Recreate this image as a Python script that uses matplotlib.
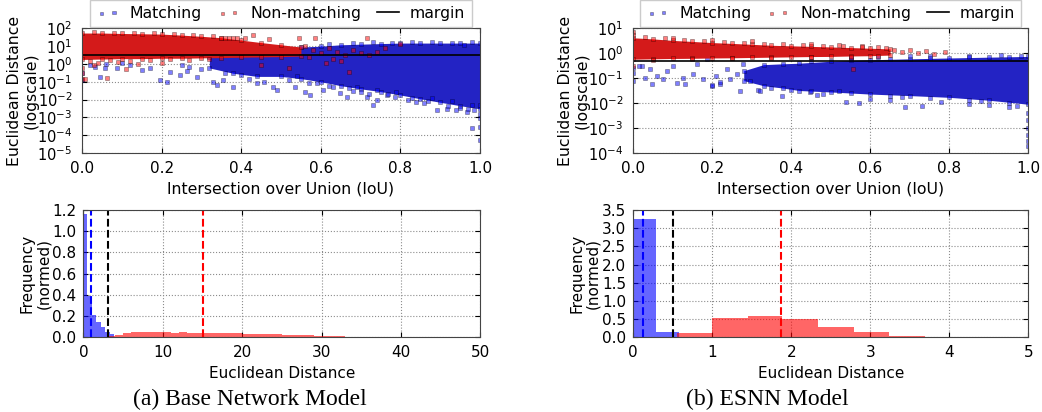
import numpy as np
from matplotlib import pyplot as plt
from matplotlib.ticker import LogLocator

#%% Data

# (a) Base network: dense bands (envelopes), then loose points
a_match_iou = [0.32, 0.38, 0.44, 0.50, 0.55, 0.60, 0.65, 0.70, 0.75, 0.80, 0.85, 0.90, 0.95, 1.00]
a_match_lo = [0.6, 0.3, 0.2, 0.2, 0.15, 0.1, 0.06, 0.04, 0.028, 0.018, 0.011, 0.007, 0.0045, 0.003]
a_match_hi = [2.5, 4, 5, 7, 9, 10, 12, 13, 14, 15, 15, 15, 15, 15]
a_non_iou = [0.0, 0.05, 0.1, 0.15, 0.2, 0.25, 0.3, 0.35, 0.4, 0.45, 0.5, 0.55]
a_non_lo = [1.8, 1.9, 2.0, 2.0, 2.1, 2.1, 2.2, 2.3, 2.4, 2.5, 2.6, 2.8]
a_non_hi = [55, 55, 52, 50, 48, 42, 36, 30, 22, 16, 12, 9]

a_match_x = [0.033, 0.045, 0.058, 0.087, 0.12, 0.15, 0.196, 0.213, 0.246, 0.263, 0.288, 0.33,
             0.34, 0.355, 0.4, 0.456, 0.48, 0.49, 0.17, 0.22, 0.27, 0.3, 0.1, 0.06, 0.02, 0.0,
             0.0, 0.25, 0.36, 0.42, 0.44, 0.38,
             0.535, 0.56, 0.573, 0.606, 0.648, 0.665, 0.715, 0.732, 0.74, 0.766, 0.786, 0.84,
             0.893, 0.918, 0.94, 0.966, 0.985, 0.979, 0.999, 1.0, 1.0, 1.0, 1.0, 0.62, 0.68,
             0.7, 0.82, 0.86, 0.95,
             0.52, 0.57, 0.63, 0.67, 0.72, 0.77, 0.83, 0.87, 0.92, 0.97, 0.54, 0.59, 0.69,
             0.74, 0.79, 0.88, 0.93, 0.98,
             0.62, 0.68, 0.73, 0.78, 0.83, 0.88, 0.93, 0.98, 0.96]
a_match_y = [0.7, 0.19, 0.56, 0.56, 0.87, 0.45, 0.13, 0.1, 0.23, 0.4, 0.19, 0.1,
             0.07, 0.12, 0.23, 0.1, 0.05, 0.034, 0.6, 0.35, 0.7, 0.5, 1.2, 1.0, 0.9, 0.3,
             0.12, 0.9, 0.3, 0.15, 0.08, 0.05,
             0.051, 0.027, 0.017, 0.033, 0.022, 0.014, 0.014, 0.0052, 0.009, 0.017, 0.014, 0.0074,
             0.0025, 0.003, 0.0025, 0.0019, 0.0025, 0.00026, 0.005, 0.00087, 0.0003, 5e-5, 0.0015,
             0.06, 0.03, 0.025, 0.01, 0.006, 0.0035,
             0.12, 0.08, 0.05, 0.045, 0.02, 0.02, 0.012, 0.008, 0.0045, 0.003, 0.2, 0.09, 0.05,
             0.035, 0.025, 0.012, 0.008, 0.005,
             14, 15, 17, 16, 18, 17, 16, 18, 12]
a_non_x = [0.0, 0.0, 0.0, 0.007, 0.062, 0.11, 0.03, 0.14, 0.2, 0.35, 0.36, 0.37, 0.38, 0.39,
           0.41, 0.43, 0.47, 0.544, 0.586, 0.717, 0.614, 0.67, 0.8, 0.58, 0.6, 0.62, 0.64,
           0.66, 0.68, 0.7, 0.72, 0.57, 0.63, 0.65, 0.74, 0.76, 0.56, 0.52, 0.45,
           0.02, 0.07, 0.12, 0.17, 0.22, 0.27, 0.32, 0.04, 0.09,
           0.03, 0.08, 0.13, 0.18, 0.23, 0.28, 0.33]
a_non_y = [0.15, 0.3, 0.6, 0.15, 0.17, 0.55, 0.9, 1.0, 1.2, 30, 30, 30, 30, 30,
           30, 43, 27, 28, 28, 28, 1.07, 0.36, 14, 6, 4, 8, 5,
           3, 6, 4, 3, 2.5, 2, 1.5, 5, 8, 10, 0.6, 0.9,
           1.5, 1.6, 1.4, 1.7, 1.8, 1.6, 1.9, 1.2, 1.3,
           60, 58, 55, 52, 48, 45, 38]
a_margin = 3.2

# (b) ESNN
b_match_iou = [0.28, 0.33, 0.38, 0.42, 0.50, 0.60, 0.70, 0.80, 0.90, 1.00]
b_match_lo = [0.08, 0.05, 0.04, 0.032, 0.028, 0.023, 0.02, 0.017, 0.013, 0.009]
b_match_hi = [0.2, 0.35, 0.38, 0.4, 0.48, 0.55, 0.6, 0.65, 0.7, 0.75]
b_non_iou = [0.0, 0.05, 0.1, 0.15, 0.2, 0.25, 0.3, 0.35, 0.4, 0.45, 0.5, 0.55, 0.6, 0.65]
b_non_lo = [0.58, 0.6, 0.62, 0.63, 0.65, 0.66, 0.68, 0.7, 0.72, 0.74, 0.75, 0.78, 0.8, 0.85]
b_non_hi = [4.2, 3.8, 3.3, 3.0, 2.7, 2.5, 2.3, 2.1, 2.0, 1.9, 1.8, 1.7, 1.6, 1.5]

b_match_x = [0.022, 0.03, 0.043, 0.047, 0.06, 0.077, 0.085, 0.102, 0.11, 0.127, 0.131, 0.152,
             0.161, 0.178, 0.186, 0.199, 0.21, 0.22, 0.237, 0.245, 0.262, 0.27, 0.279, 0.296,
             0.317, 0.0, 0.0, 0.0, 0.014,
             0.32, 0.376, 0.448, 0.465, 0.48, 0.199, 0.22, 0.538, 0.571, 0.689, 0.731, 0.6,
             0.65, 0.78, 0.85, 0.9, 0.95, 0.97,
             1.0, 1.0, 1.0, 1.0, 1.0, 1.0,
             0.55, 0.62, 0.7, 0.75, 0.85, 0.93, 0.98,
             0.35, 0.45, 0.55, 0.65, 0.75, 0.85, 0.95, 0.4, 0.52, 0.68, 0.88,
             0.45, 0.55, 0.65, 0.75, 0.85, 0.95]
b_match_y = [0.31, 0.105, 0.23, 0.057, 0.12, 0.091, 0.19, 0.31, 0.066, 0.105, 0.057, 0.145,
             0.36, 0.091, 0.57, 0.049, 0.12, 0.057, 0.23, 0.091, 0.15, 0.032, 0.36, 0.08,
             0.033, 0.16, 0.08, 0.25, 0.3,
             0.032, 0.02, 0.027, 0.022, 0.024, 0.053, 0.07, 0.011, 0.0098, 0.007, 0.0075, 0.015,
             0.013, 0.011, 0.009, 0.008, 0.007, 0.0075,
             0.004, 0.002, 0.001, 0.0005, 0.0003, 0.00018,
             0.65, 0.7, 0.75, 0.8, 0.8, 0.85, 0.8,
             0.04, 0.03, 0.025, 0.02, 0.016, 0.013, 0.01, 0.035, 0.03, 0.018, 0.012,
             0.5, 0.55, 0.6, 0.65, 0.68, 0.72]
b_non_x = [0.0, 0.0, 0.0, 0.62, 0.64, 0.66, 0.68, 0.7, 0.72, 0.74, 0.76, 0.79, 0.557,
           0.3, 0.45, 0.52, 0.58, 0.1, 0.2,
           0.03, 0.08, 0.13, 0.18, 0.23, 0.28, 0.33, 0.38, 0.43, 0.48, 0.53, 0.58,
           0.05, 0.15, 0.25, 0.35, 0.45, 0.55, 0.62]
b_non_y = [7, 5.5, 0.3, 1.8, 1.6, 1.3, 1.1, 1.4, 1.0, 1.2, 0.9, 1.1, 0.23,
           3.0, 2.3, 2.1, 1.9, 4.3, 3.3,
           4.5, 4.0, 3.5, 3.2, 2.8, 2.6, 2.4, 2.3, 2.1, 2.0, 1.9, 1.8,
           0.55, 0.6, 0.62, 0.65, 0.7, 0.7, 0.75]
b_margin = 0.5

# Histograms (normed frequency)
a_hist_match_edges = [0, 0.5, 1.1, 1.6, 2.2, 2.7, 3.3, 3.8]
a_hist_match = [1.16, 0.39, 0.21, 0.14, 0.09, 0.05, 0.03]
a_hist_non_edges = list(range(3, 37))
a_hist_non = [0.005, 0.02, 0.04, 0.046, 0.047, 0.046, 0.044, 0.043, 0.042, 0.043, 0.042,
              0.041, 0.04, 0.038, 0.037, 0.035, 0.034, 0.033, 0.03, 0.029, 0.026, 0.024,
              0.022, 0.02, 0.017, 0.015, 0.013, 0.011, 0.009, 0.007, 0.004, 0.003, 0.002]
a_means = {'b': 0.9, 'k': 3.1, 'r': 15.1}

b_hist_match_edges = [0, 0.29, 0.58]
b_hist_match = [3.25, 0.14]
b_hist_non_edges = [0.55, 1.0, 1.45, 1.89, 2.34, 2.79, 3.24, 3.69, 4.14, 4.59]
b_hist_non = [0.11, 0.53, 0.57, 0.5, 0.28, 0.15, 0.04, 0.012, 0.004]
b_means = {'b': 0.12, 'k': 0.5, 'r': 1.87}

#%% Display
plt.rcParams['font.family'] = ['DejaVu Sans']
plt.rcParams['mathtext.fontset'] = 'dejavusans'

fig = plt.figure(figsize=(10.42, 4.12), dpi=100)
ax_a = fig.add_axes([0.0787, 0.629, 0.382, 0.302])
ax_b = fig.add_axes([0.6075, 0.629, 0.3795, 0.302])
hx_a = fig.add_axes([0.08, 0.182, 0.381, 0.308])
hx_b = fig.add_axes([0.6075, 0.182, 0.3795, 0.308])

pt = dict(marker='s', s=8, alpha=0.5, edgecolors='k', linewidths=0.4)

def style(ax):
    ax.grid(True, color='0.55', linestyle=':', linewidth=0.8)
    ax.set_axisbelow(True)
    ax.tick_params(direction='in', top=True, right=True, labelsize=11)
    ax.tick_params(axis='x', pad=6)
    ax.tick_params(axis='y', pad=7)
    ax.tick_params(which='minor', direction='in', top=False, right=False)
    for sp in ax.spines.values():
        sp.set_color('#444444')

def scatter_panel(ax, m_iou, m_lo, m_hi, m_x, m_y, n_iou, n_lo, n_hi, n_x, n_y, margin, ylim):
    ax.fill_between(m_iou, m_lo, m_hi, color='#2323c4', lw=0)
    ax.scatter(m_iou + m_iou, m_lo + m_hi, c='b', **pt)
    ax.scatter(m_x, m_y, c='b', label='Matching', **pt)
    ax.fill_between(n_iou, n_lo, n_hi, color='#d41a1a', lw=0)
    ax.scatter(n_iou + n_iou, n_lo + n_hi, c='r', **pt)
    ax.scatter(n_x, n_y, c='r', label='Non-matching', **pt)
    ax.axhline(margin, color='k', lw=1.2, label='margin')
    ax.set_yscale('log')
    ax.yaxis.set_major_locator(LogLocator(base=10, numticks=20))
    ax.set_xlim(0, 1)
    ax.set_ylim(*ylim)
    ax.set_xticks(np.linspace(0, 1, 6))
    ax.set_xticklabels([f'{v:.1f}' for v in np.linspace(0, 1, 6)])
    ax.set_xlabel('Intersection over Union (IoU)', fontsize=11.3)
    ax.set_ylabel('Euclidean Distance\n(logscale)', fontsize=11.3, linespacing=1.1, labelpad=-1)
    style(ax)
    ax.tick_params(axis='y', labelsize=10.5)
    ax.legend(loc='lower center', bbox_to_anchor=(0.5, 1.01), ncol=3, scatterpoints=2,
              fontsize=11.3, borderaxespad=0, markerscale=0.8, handlelength=1.4,
              handletextpad=0.7, columnspacing=1.0, edgecolor='0.75', fancybox=False)

scatter_panel(ax_a, a_match_iou, a_match_lo, a_match_hi, a_match_x, a_match_y,
              a_non_iou, a_non_lo, a_non_hi, a_non_x, a_non_y, a_margin, (1e-5, 1e2))
scatter_panel(ax_b, b_match_iou, b_match_lo, b_match_hi, b_match_x, b_match_y,
              b_non_iou, b_non_lo, b_non_hi, b_non_x, b_non_y, b_margin, (1e-4, 1e1))

def hist_panel(ax, me, mh, ne, nh, means, xmax, ymax, ystep):
    ax.bar(me[:-1], mh, width=np.diff(me), align='edge', color='b', alpha=0.6, lw=0)
    ax.bar(ne[:-1], nh, width=np.diff(ne), align='edge', color='r', alpha=0.6, lw=0)
    for c, v in means.items():
        ax.axvline(v, color=c, ls='--', lw=1.5)
    ax.set_xlim(0, xmax)
    ax.set_ylim(0, ymax)
    ax.set_yticks(np.arange(0, ymax + 1e-9, ystep))
    ax.set_yticklabels([f'{v:.1f}' for v in np.arange(0, ymax + 1e-9, ystep)])
    ax.set_xlabel('Euclidean Distance', fontsize=11)
    ax.set_ylabel('Frequency\n(normed)', fontsize=11, linespacing=1.1, labelpad=1)
    style(ax)
    ax.tick_params(axis='y', pad=5)

hist_panel(hx_a, a_hist_match_edges, a_hist_match, a_hist_non_edges, a_hist_non,
           a_means, 50, 1.2, 0.2)
hist_panel(hx_b, b_hist_match_edges, b_hist_match, b_hist_non_edges, b_hist_non,
           b_means, 5, 3.5, 0.5)

cap = dict(ha='center', va='center', fontsize=17, family=['Liberation Serif', 'DejaVu Serif'])
fig.text(0.24, 0.03, '(a) Base Network Model', **cap)
fig.text(0.736, 0.03, '(b) ESNN Model', **cap)

fig.savefig('out.png', dpi=100)
